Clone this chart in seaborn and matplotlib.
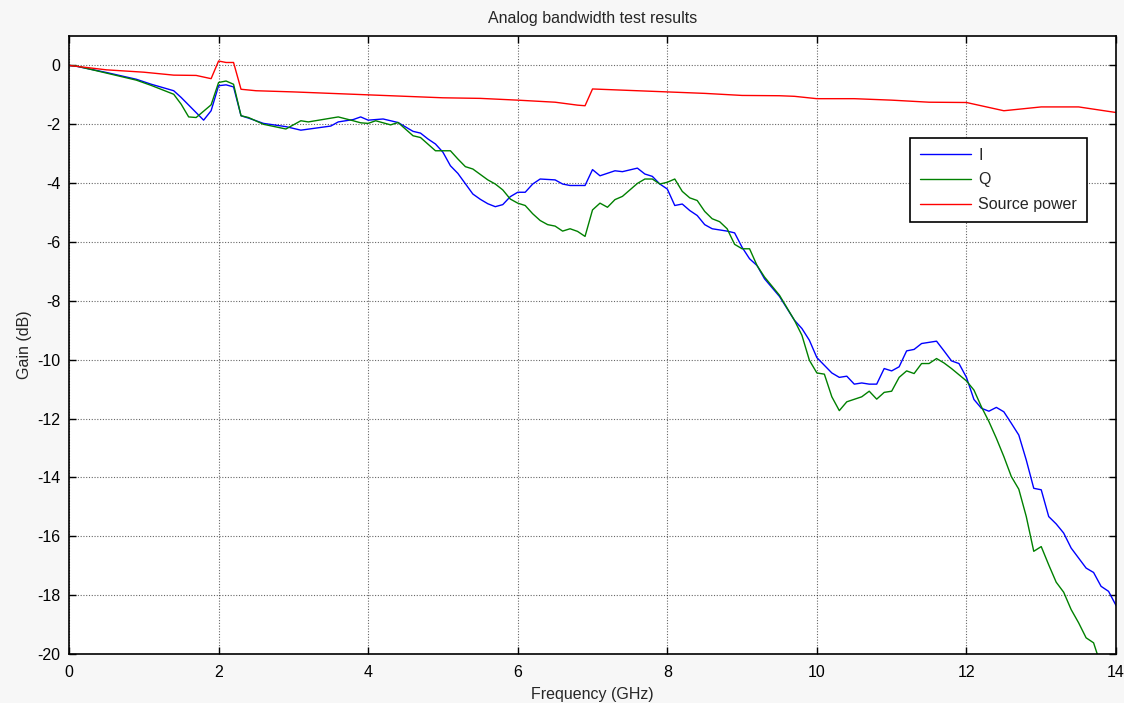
import numpy as np
import pandas as pd
import matplotlib
matplotlib.use("Agg")
import matplotlib.pyplot as plt
import seaborn as sns

# ---- data ----
i_freq = [0.0, 0.1, 0.5, 0.9, 1.1, 1.4, 1.5, 1.8, 1.9, 2.0, 2.1, 2.2, 2.3, 2.4, 2.6, 2.9,
          3.1, 3.3, 3.5, 3.6, 3.8, 3.9, 4.0, 4.2, 4.4, 4.6, 4.7, 4.8, 4.9, 5.0, 5.1, 5.2,
          5.4, 5.5, 5.6, 5.7, 5.8, 5.9, 6.0, 6.1, 6.2, 6.3, 6.5, 6.6, 6.7, 6.9, 7.0, 7.1,
          7.3, 7.4, 7.6, 7.7, 7.8, 7.9, 8.0, 8.1, 8.2, 8.3, 8.4, 8.5, 8.6, 8.8, 8.9, 9.0,
          9.1, 9.2, 9.3, 9.5, 9.7, 9.8, 9.9, 10.0, 10.2, 10.3, 10.4, 10.5, 10.6, 10.7, 10.8,
          10.9, 11.0, 11.1, 11.2, 11.3, 11.4, 11.6, 11.7, 11.8, 11.9, 12.0, 12.1, 12.2, 12.3,
          12.4, 12.5, 12.6, 12.7, 12.8, 12.9, 13.0, 13.1, 13.2, 13.3, 13.4, 13.5, 13.6, 13.7,
          13.8, 13.9, 14.0]
i_gain = [0.0, -0.03, -0.24, -0.47, -0.64, -0.86, -1.09, -1.86, -1.54, -0.69, -0.66, -0.73,
          -1.71, -1.79, -1.97, -2.08, -2.2, -2.13, -2.06, -1.92, -1.84, -1.75, -1.86, -1.82,
          -1.94, -2.24, -2.3, -2.5, -2.67, -2.95, -3.41, -3.67, -4.37, -4.55, -4.7, -4.8,
          -4.73, -4.46, -4.31, -4.31, -4.03, -3.86, -3.89, -4.03, -4.08, -4.08, -3.54, -3.75,
          -3.58, -3.61, -3.49, -3.69, -3.77, -4.03, -4.2, -4.76, -4.71, -4.93, -5.1, -5.41,
          -5.55, -5.63, -5.69, -6.18, -6.57, -6.8, -7.25, -7.85, -8.66, -8.94, -9.34, -9.93,
          -10.45, -10.6, -10.56, -10.83, -10.79, -10.83, -10.83, -10.3, -10.38, -10.24, -9.7,
          -9.65, -9.45, -9.37, -9.7, -10.04, -10.13, -10.6, -11.35, -11.65, -11.75, -11.62,
          -11.77, -12.16, -12.56, -13.41, -14.37, -14.42, -15.33, -15.58, -15.89, -16.4,
          -16.74, -17.08, -17.23, -17.7, -17.87, -18.35]

q_freq = [0.0, 0.1, 0.5, 0.9, 1.1, 1.4, 1.5, 1.6, 1.7, 1.9, 2.0, 2.1, 2.2, 2.3, 2.4, 2.6,
          2.9, 3.1, 3.2, 3.6, 3.8, 3.9, 4.0, 4.1, 4.3, 4.4, 4.6, 4.7, 4.9, 5.1, 5.2, 5.3,
          5.4, 5.6, 5.7, 5.8, 5.9, 6.0, 6.1, 6.2, 6.3, 6.4, 6.5, 6.6, 6.7, 6.8, 6.9, 7.0,
          7.1, 7.2, 7.3, 7.4, 7.5, 7.6, 7.7, 7.8, 7.9, 8.0, 8.1, 8.2, 8.3, 8.4, 8.5, 8.6,
          8.7, 8.8, 8.9, 9.0, 9.1, 9.2, 9.3, 9.5, 9.7, 9.8, 9.9, 10.0, 10.1, 10.2, 10.3,
          10.4, 10.6, 10.7, 10.8, 10.9, 11.0, 11.1, 11.2, 11.3, 11.4, 11.5, 11.6, 11.7, 11.8,
          12.0, 12.1, 12.2, 12.3, 12.4, 12.5, 12.6, 12.7, 12.8, 12.9, 13.0, 13.1, 13.2, 13.3,
          13.4, 13.5, 13.6, 13.7, 13.8, 13.9, 14.0]
q_gain = [0.0, -0.02, -0.26, -0.5, -0.68, -0.98, -1.32, -1.75, -1.77, -1.34, -0.58, -0.53,
          -0.64, -1.71, -1.77, -2.0, -2.16, -1.88, -1.92, -1.75, -1.88, -1.95, -1.97, -1.88,
          -2.02, -1.94, -2.39, -2.45, -2.9, -2.9, -3.18, -3.44, -3.52, -3.89, -4.03, -4.23,
          -4.54, -4.68, -4.76, -5.04, -5.27, -5.41, -5.46, -5.63, -5.55, -5.64, -5.81, -4.91,
          -4.68, -4.82, -4.56, -4.45, -4.23, -4.01, -3.86, -3.86, -4.03, -3.97, -3.86, -4.28,
          -4.5, -4.59, -4.96, -5.21, -5.31, -5.55, -6.08, -6.23, -6.23, -6.8, -7.19, -7.81,
          -8.66, -9.17, -10.02, -10.45, -10.49, -11.26, -11.73, -11.43, -11.26, -11.07,
          -11.34, -11.11, -11.07, -10.6, -10.38, -10.47, -10.13, -10.13, -9.96, -10.11, -10.3,
          -10.72, -11.03, -11.6, -12.1, -12.67, -13.29, -13.97, -14.4, -15.33, -16.51, -16.35,
          -16.97, -17.56, -17.9, -18.49, -18.94, -19.45, -19.62, -20.4, -20.8, -21.2]

p_freq = [0.0, 0.5, 1.0, 1.4, 1.7, 1.9, 2.0, 2.1, 2.2, 2.3, 2.5, 3.0, 3.5, 4.0, 4.5, 5.0,
          5.5, 6.0, 6.5, 6.8, 6.9, 7.0, 7.5, 8.0, 8.5, 9.0, 9.5, 9.7, 10.0, 10.5, 11.0, 11.5,
          12.0, 12.5, 13.0, 13.5, 14.0]
p_gain = [0.0, -0.15, -0.23, -0.33, -0.34, -0.45, 0.15, 0.1, 0.1, -0.81, -0.86, -0.9, -0.95,
          -1.0, -1.05, -1.1, -1.12, -1.18, -1.25, -1.35, -1.37, -0.8, -0.85, -0.9, -0.95,
          -1.02, -1.03, -1.05, -1.13, -1.13, -1.18, -1.25, -1.26, -1.54, -1.41, -1.41, -1.6]

series_names = ["I", "Q", "Source power"]
series_colors = ["#0000ff", "#008000", "#ff0000"]
x_ticks = [0, 2, 4, 6, 8, 10, 12, 14]
y_ticks = [-20, -18, -16, -14, -12, -10, -8, -6, -4, -2, 0]

df = pd.concat([
    pd.DataFrame({"freq": i_freq, "gain": i_gain, "series": series_names[0]}),
    pd.DataFrame({"freq": q_freq, "gain": q_gain, "series": series_names[1]}),
    pd.DataFrame({"freq": p_freq, "gain": p_gain, "series": series_names[2]}),
], ignore_index=True)

# ---- style ----
sns.set_style("ticks")
plt.rcParams["font.family"] = ["Liberation Sans", "DejaVu Sans"]
FS = 11.5

fig = plt.figure(figsize=(11.24, 7.03), dpi=100, facecolor="#f7f7f7")
ax = fig.add_axes([0.0614, 0.0697, 0.9315, 0.8791])
ax.set_facecolor("white")

sns.lineplot(data=df, x="freq", y="gain", hue="series", hue_order=series_names,
             palette=series_colors, linewidth=1.0, sort=False, estimator=None,
             ax=ax, legend=True)

ax.set_xlim(0, 14)
ax.set_ylim(-20, 1)
ax.set_xticks(x_ticks)
ax.set_yticks(y_ticks)
ax.set_xticklabels([str(v) for v in x_ticks], fontsize=FS)
ax.set_yticklabels([str(v) for v in y_ticks], fontsize=FS)
ax.tick_params(direction="in", length=5, width=1, top=True, right=True,
               colors="black")
ax.tick_params(axis="x", pad=8)
ax.tick_params(axis="y", pad=6)
for s in ax.spines.values():
    s.set_color("black")
    s.set_linewidth(1.2)
ax.grid(True, color="black", linestyle=(0, (1, 1.5)), linewidth=0.8, alpha=0.6)
ax.set_axisbelow(True)

ax.set_title("Analog bandwidth test results", fontsize=FS, pad=9)
ax.set_xlabel("Frequency (GHz)", fontsize=FS, labelpad=5)
ax.set_ylabel("Gain (dB)", fontsize=FS, labelpad=4)

handles, labels = ax.get_legend_handles_labels()
leg = ax.legend(handles, labels, loc="upper right", bbox_to_anchor=(0.972, 0.835),
                fontsize=FS, frameon=True, fancybox=False, framealpha=1,
                edgecolor="black", handlelength=3.2, handletextpad=0.45,
                borderpad=0.6, labelspacing=0.62, borderaxespad=0)
leg.get_frame().set_linewidth(1.2)

fig.savefig("out.png", dpi=100, facecolor=fig.get_facecolor())
